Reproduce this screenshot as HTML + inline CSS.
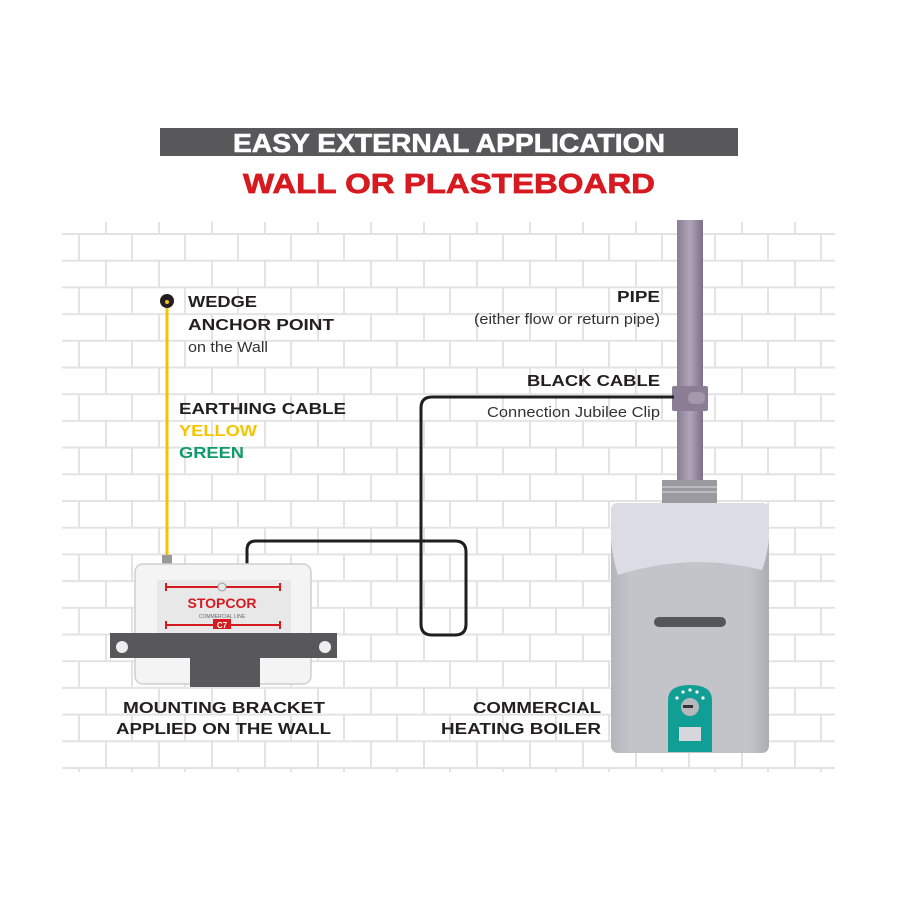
<!DOCTYPE html>
<html><head><style>body{margin:0;background:#fff}svg{display:block}</style></head><body>
<svg width="900" height="900" viewBox="0 0 900 900" xmlns="http://www.w3.org/2000/svg" font-family="Liberation Sans, sans-serif">
<defs>
<pattern id="br" x="25" y="233" width="106" height="53.4" patternUnits="userSpaceOnUse">
<g stroke="#e3e3e3" stroke-width="2" fill="none">
<line x1="0" y1="1" x2="106" y2="1"/><line x1="0" y1="27.7" x2="106" y2="27.7"/>
<line x1="1" y1="0" x2="1" y2="26.7"/><line x1="54" y1="0" x2="54" y2="26.7"/>
<line x1="28" y1="26.7" x2="28" y2="53.4"/><line x1="81" y1="26.7" x2="81" y2="53.4"/>
</g></pattern>
<linearGradient id="pg" x1="0" x2="1"><stop offset="0" stop-color="#8a7d94"/><stop offset="0.5" stop-color="#b0a5b8"/><stop offset="1" stop-color="#7c7087"/></linearGradient>
<linearGradient id="bg" x1="0" x2="1"><stop offset="0" stop-color="#b4b5bb"/><stop offset="0.12" stop-color="#c3c4ca"/><stop offset="0.88" stop-color="#c3c4ca"/><stop offset="1" stop-color="#acadb3"/></linearGradient>
</defs>
<rect x="62" y="222" width="773" height="550" fill="url(#br)"/>
<!-- header -->
<rect x="160" y="128" width="578" height="28" fill="#58585a"/>
<text x="233" y="152" textLength="432" lengthAdjust="spacingAndGlyphs" fill="#fff" font-weight="bold" font-size="26" stroke="#fff" stroke-width="0.6">EASY EXTERNAL APPLICATION</text>
<text x="243" y="193" textLength="412" lengthAdjust="spacingAndGlyphs" fill="#d71920" font-weight="bold" font-size="28" stroke="#d71920" stroke-width="0.7">WALL OR PLASTEBOARD</text>
<!-- pipe -->
<rect x="677" y="220" width="26" height="265" fill="url(#pg)"/>
<rect x="672" y="386" width="36" height="25" rx="2" fill="#8a7d94"/>
<rect x="688" y="392" width="17" height="12" rx="5" fill="#a498ad"/>
<!-- black cable -->
<path d="M247 564 V550 Q247 541 256 541 H455 Q466 541 466 552 V624 Q466 635 455 635 H432 Q421 635 421 624 V408 Q421 397 432 397 H674" fill="none" stroke="#1f1f1f" stroke-width="3"/>
<!-- earthing cable -->
<line x1="167" y1="301" x2="167" y2="557" stroke="#f5c400" stroke-width="3"/>
<circle cx="167" cy="301" r="7" fill="#231f20"/>
<circle cx="167" cy="302" r="2" fill="#f5c400"/>
<rect x="162" y="555" width="10" height="10" fill="#999"/>
<!-- device -->
<rect x="135" y="564" width="176" height="120" rx="8" fill="#f4f4f4" stroke="#cfcfcf" stroke-width="1.5"/>
<rect x="157" y="580" width="134" height="55" fill="#e8e8e8"/>
<line x1="166" y1="587" x2="280" y2="587" stroke="#d71920" stroke-width="2"/>
<line x1="166" y1="583" x2="166" y2="591" stroke="#d71920" stroke-width="2"/><line x1="280" y1="583" x2="280" y2="591" stroke="#d71920" stroke-width="2"/>
<circle cx="222" cy="587" r="4" fill="#e8e8e8" stroke="#999"/>
<text x="222" y="608" text-anchor="middle" fill="#d71920" font-weight="bold" font-size="14">STOPCOR</text>
<text x="222" y="618" text-anchor="middle" fill="#666" font-size="5">COMMERCIAL LINE</text>
<line x1="166" y1="625" x2="280" y2="625" stroke="#d71920" stroke-width="2"/>
<line x1="166" y1="621" x2="166" y2="629" stroke="#d71920" stroke-width="2"/><line x1="280" y1="621" x2="280" y2="629" stroke="#d71920" stroke-width="2"/>
<rect x="213" y="619" width="18" height="10" fill="#d71920"/>
<text x="222" y="628" text-anchor="middle" fill="#fff" font-weight="bold" font-size="8">C7</text>
<rect x="110" y="633" width="227" height="25" fill="#58585a"/>
<rect x="190" y="655" width="70" height="32" fill="#58585a"/>
<circle cx="122" cy="647" r="6" fill="#eee"/><circle cx="325" cy="647" r="6" fill="#eee"/>
<!-- boiler -->
<rect x="662" y="480" width="55" height="24" fill="#9a9aa0"/>
<line x1="662" y1="487" x2="717" y2="487" stroke="#c5c5ca" stroke-width="1.5"/><line x1="662" y1="492" x2="717" y2="492" stroke="#c5c5ca" stroke-width="1.5"/>
<rect x="611" y="503" width="158" height="250" rx="7" fill="url(#bg)"/>
<path d="M611 510 Q611 503 618 503 H762 Q769 503 769 510 V540 Q766 560 762 570 Q690 552 618 575 Q613 560 611 540 Z" fill="#dcdce4"/>
<rect x="654" y="617" width="72" height="10" rx="5" fill="#55565a"/>
<path d="M668 752 V700 Q668 685 690 685 Q712 685 712 700 V752 Z" fill="#119e94"/>
<circle cx="690" cy="707" r="9" fill="#b6b8bc"/>
<rect x="683" y="705" width="10" height="3" fill="#333"/>
<g fill="#fff"><circle cx="677" cy="698" r="1.6"/><circle cx="683" cy="692" r="1.6"/><circle cx="690" cy="690" r="1.6"/><circle cx="697" cy="692" r="1.6"/><circle cx="703" cy="698" r="1.6"/></g>
<rect x="679" y="727" width="22" height="14" fill="#d6d6dc"/>
<!-- labels -->
<g font-weight="bold" font-size="16" fill="#231f20">
<text x="188" y="307" textLength="69" lengthAdjust="spacingAndGlyphs">WEDGE</text>
<text x="188" y="330" textLength="146" lengthAdjust="spacingAndGlyphs">ANCHOR POINT</text>
<text x="179" y="414" textLength="167" lengthAdjust="spacingAndGlyphs">EARTHING CABLE</text>
<text x="179" y="436" textLength="78" lengthAdjust="spacingAndGlyphs" fill="#f5c400">YELLOW</text>
<text x="179" y="458" textLength="65" lengthAdjust="spacingAndGlyphs" fill="#0e9a6a">GREEN</text>
<text x="617" y="302" textLength="43" lengthAdjust="spacingAndGlyphs">PIPE</text>
<text x="527" y="386" textLength="133" lengthAdjust="spacingAndGlyphs">BLACK CABLE</text>
<text x="123" y="713" textLength="202" lengthAdjust="spacingAndGlyphs">MOUNTING BRACKET</text>
<text x="116" y="734" textLength="215" lengthAdjust="spacingAndGlyphs">APPLIED ON THE WALL</text>
<text x="473" y="713" textLength="128" lengthAdjust="spacingAndGlyphs">COMMERCIAL</text>
<text x="441" y="734" textLength="160" lengthAdjust="spacingAndGlyphs">HEATING BOILER</text>
</g>
<g font-size="15" fill="#333">
<text x="188" y="352" textLength="80" lengthAdjust="spacingAndGlyphs">on the Wall</text>
<text x="474" y="324" textLength="186" lengthAdjust="spacingAndGlyphs">(either flow or return pipe)</text>
<text x="487" y="417" textLength="173" lengthAdjust="spacingAndGlyphs">Connection Jubilee Clip</text>
</g>
</svg>
</body></html>
